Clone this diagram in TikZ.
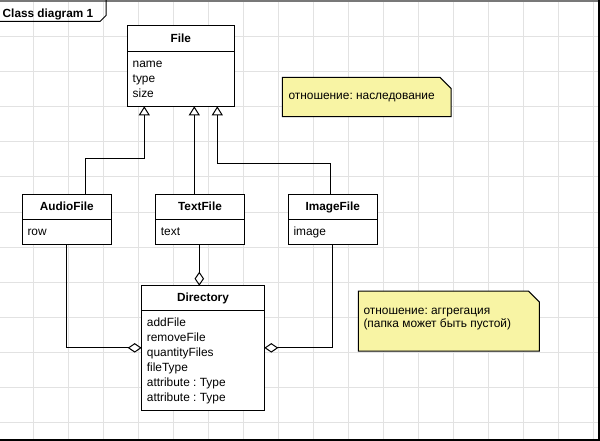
\documentclass[tikz,border=0pt]{standalone}
\usepackage{fontspec}
\setmainfont{Liberation Sans}
\usetikzlibrary{arrows.meta}
\frenchspacing

\definecolor{gridgray}{RGB}{226,226,226}
\definecolor{notefill}{RGB}{248,244,164}
\definecolor{framegray}{RGB}{120,120,120}

\tikzset{
  regular/.style={font=\fontsize{11.9}{15}\selectfont},
  boldtext/.style={font=\fontsize{11.8}{15}\selectfont\bfseries},
  classbox/.style={draw=black, line width=1pt, fill=white, anchor=north west,
    inner sep=0pt, outer sep=0pt},
  classtitle/.style={boldtext, anchor=base, inner sep=0pt},
  member/.style={regular, anchor=base west, inner sep=0pt},
  notebox/.style={anchor=north west, inner sep=0pt, outer sep=0pt},
  notepaper/.style={draw=black, line width=1pt, fill=notefill},
  inh/.style={draw=black, line width=1pt,
    -{Triangle[open, length=9pt, width=11pt]}},
  agg/.style={draw=black, line width=1pt,
    {Diamond[open, length=14pt, width=9.5pt]}-},
  gridline/.style={draw=gridgray, line width=1pt}
}

\begin{document}
\begin{tikzpicture}[x=1pt, y=-1pt]
\useasboundingbox (0,0) rectangle (600,441);
\fill[white] (0,0) rectangle (600,441);

% background grid
\foreach \gx in {33,68,...,593} \draw[gridline] (\gx,0) -- (\gx,441);
\foreach \gy in {37,72,...,422} \draw[gridline] (0,\gy) -- (600,\gy);

% diagram frame and name tab
\draw[framegray, line width=2.5pt] (0,1.25) -- (600,1.25);
\draw[black, line width=2pt] (599,0) -- (599,441);
\draw[black, line width=2pt] (0,440) -- (600,440);
\draw[black, line width=1pt] (0,21.5) -- (100,21.5) -- (106,15.5) -- (106,0);
\node[boldtext, anchor=base west, inner sep=0pt] (tabname) at (2.5,17.3) {Class diagram 1};

% class File
\node[classbox, minimum width=107pt, minimum height=80.3pt] (file) at (127.3,26) {};
\draw[line width=1pt] ([yshift=-26pt]file.north west) -- ([yshift=-26pt]file.north east);
\node[classtitle] (file-t) at (180.8,42.7) {File};
\node[member] (file-m1) at (132.5,67.5) {name};
\node[member] (file-m2) at (132.5,82.5) {type};
\node[member] (file-m3) at (132.5,97.5) {size};

% class AudioFile
\node[classbox, minimum width=89pt, minimum height=50pt] (audio) at (22.3,194.3) {};
\draw[line width=1pt] ([yshift=-25pt]audio.north west) -- ([yshift=-25pt]audio.north east);
\node[classtitle] (audio-t) at (66.8,210.8) {AudioFile};
\node[member] (audio-m1) at (27.3,235.3) {row};

% class TextFile
\node[classbox, minimum width=88.6pt, minimum height=50pt] (tfile) at (155.7,194.3) {};
\draw[line width=1pt] ([yshift=-25pt]tfile.north west) -- ([yshift=-25pt]tfile.north east);
\node[classtitle] (tfile-t) at (200,210.8) {TextFile};
\node[member] (tfile-m1) at (160.7,235.3) {text};

% class ImageFile
\node[classbox, minimum width=89pt, minimum height=50pt] (image) at (288.3,194.3) {};
\draw[line width=1pt] ([yshift=-25pt]image.north west) -- ([yshift=-25pt]image.north east);
\node[classtitle] (image-t) at (332.8,210.8) {ImageFile};
\node[member] (image-m1) at (293.3,235.3) {image};

% class Directory
\node[classbox, minimum width=122.6pt, minimum height=124.3pt] (dir) at (141.7,285.7) {};
\draw[line width=1pt] ([yshift=-25pt]dir.north west) -- ([yshift=-25pt]dir.north east);
\node[classtitle] (dir-t) at (203,301.8) {Directory};
\node[member] (dir-m1) at (146.7,326.7) {addFile};
\node[member] (dir-m2) at (146.7,341.7) {removeFile};
\node[member] (dir-m3) at (146.7,356.7) {quantityFiles};
\node[member] (dir-m4) at (146.7,371.7) {fileType};
\node[member] (dir-m5) at (146.7,386.7) {attribute : Type};
\node[member] (dir-m6) at (146.7,401.7) {attribute : Type};

% generalization
\draw[inh] ([xshift=19pt]audio.north) -- ++(0,-36) -| ([xshift=-36.5pt]file.south);
\draw[inh] ([xshift=-5.7pt]tfile.north) -- ([xshift=13.5pt]file.south);
\draw[inh] ([xshift=-2pt]image.north) -- ++(0,-31) -| ([xshift=36.5pt]file.south);

% aggregation
\draw[agg] ([xshift=-3.7pt]dir.north) -- ([xshift=-0.7pt]tfile.south);
\draw[agg] (dir.west) -| (audio.south);
\draw[agg] (dir.east) -| (image.south);

% notes
\node[notebox, minimum width=168.7pt, minimum height=39.4pt] (note1) at (282.3,77.3) {};
\draw[notepaper] (note1.north west) -- ([xshift=-11pt]note1.north east)
  -- ([yshift=-11pt]note1.north east) -- (note1.south east)
  -- (note1.south west) -- cycle;
\node[member] (note1-t) at (288.3,99.3) {отношение: наследование};

\node[notebox, minimum width=181pt, minimum height=60pt] (note2) at (358.3,291) {};
\draw[notepaper] (note2.north west) -- ([xshift=-11pt]note2.north east)
  -- ([yshift=-11pt]note2.north east) -- (note2.south east)
  -- (note2.south west) -- cycle;
\node[member] (note2-t1) at (363.3,314.3) {отношение: аггрегация};
\node[member] (note2-t2) at (363.3,327.7) {(папка может быть пустой)};
\end{tikzpicture}
\end{document}
